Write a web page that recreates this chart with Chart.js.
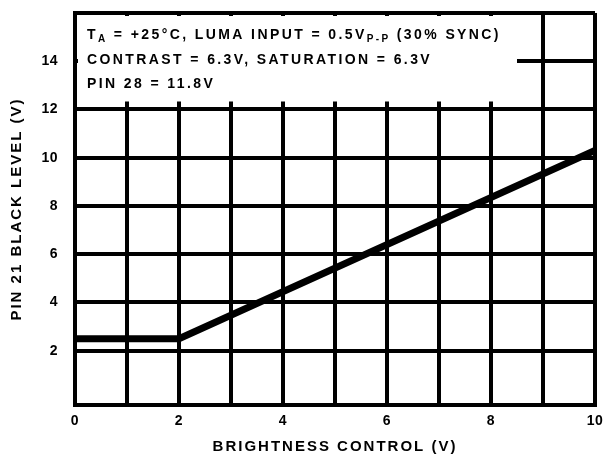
<!DOCTYPE html>
<html><head><meta charset="utf-8">
<script src="https://cdn.jsdelivr.net/npm/chart.js@4"></script>
<style>html,body{margin:0;padding:0;background:#fff}#wrap{width:603px;height:459px;position:relative}</style>
</head><body><div id="wrap"><canvas id="c"></canvas></div>
<script>
const brightness = [0, 2, 10];
const blackLevel = [2.5, 2.5, 10.3];
const xGrid = [0,1,2,3,4,5,6,7,8,9,10];
const xLabelValues = [0,2,4,6,8,10];
const yGrid = [0,2,4,6,8,10,12,14,16];
const yLabelValues = [2,4,6,8,10,12,14];
const xTitle = 'BRIGHTNESS CONTROL (V)';
const yTitle = 'PIN 21 BLACK LEVEL (V)';
const noteLines = [
  [['T',0],['A',1],[' = +25°C, LUMA INPUT = 0.5V',0],['P-P',1],[' (30% SYNC)',0]],
  [['CONTRAST = 6.3V, SATURATION = 6.3V',0]],
  [['PIN 28 = 11.8V',0]]
];
const FONT = '"Liberation Sans", Arial, Helvetica, sans-serif';

const spacingPlugin = {
  id:'spacing',
  beforeDraw(chart){ chart.ctx.letterSpacing = '0.5px'; }
};

const notePlugin = {
  id:'note',
  afterDatasetsDraw(chart){
    const {ctx, chartArea, scales:{x,y}} = chart;
    const x0 = chartArea.left + 3, x1 = x.getPixelForValue(8.5);
    const y0 = chartArea.top + 3, y1 = y.getPixelForValue(12) - 8;
    ctx.save();
    ctx.fillStyle = '#fff';
    ctx.fillRect(x0, y0, x1 - x0, y1 - y0);
    ctx.fillStyle = '#000';
    ctx.textBaseline = 'alphabetic';
    ctx.textAlign = 'left';
    ctx.letterSpacing = '2.4px';
    const base = [39, 64, 88];
    noteLines.forEach((segs, i) => {
      let cx = 87;
      segs.forEach(([t, sub]) => {
        ctx.font = (sub ? 'bold 10px ' : 'bold 14px ') + FONT;
        ctx.fillText(t, cx, base[i] + (sub ? 3 : 0));
        cx += ctx.measureText(t).width;
      });
    });
    ctx.restore();
  },
  afterDraw(chart){
    const {ctx} = chart;
    ctx.save();
    ctx.fillStyle = '#000';
    ctx.font = 'bold 15px ' + FONT;
    ctx.letterSpacing = '2px';
    ctx.textAlign = 'center';
    ctx.textBaseline = 'middle';
    ctx.fillText(xTitle, 335, 447);
    ctx.translate(17, 209);
    ctx.rotate(-Math.PI/2);
    ctx.fillText(yTitle, 0, 0);
    ctx.restore();
  }
};

new Chart(document.getElementById('c'), {
  type: 'line',
  data: {
    datasets: [{
      data: brightness.map((v, i) => ({x: v, y: blackLevel[i]})),
      borderColor: '#000',
      borderWidth: 7,
      pointRadius: 0,
      tension: 0,
      fill: false,
      borderCapStyle: 'butt',
      borderJoinStyle: 'miter'
    }]
  },
  options: {
    responsive: true,
    maintainAspectRatio: false,
    animation: false,
    devicePixelRatio: 1,
    layout: { padding: { top: 13, right: 8, left: 0, bottom: 0 } },
    plugins: { legend: { display: false }, tooltip: { enabled: false } },
    scales: {
      x: {
        type: 'linear', min: 0, max: 10,
        afterBuildTicks: s => { s.ticks = xGrid.map(v => ({value: v})); },
        afterFit: s => { s.height = 54; s.paddingLeft = 0; s.paddingRight = 0; },
        ticks: {
          autoSkip: false, maxRotation: 0, padding: 8,
          color: '#000',
          font: { family: FONT, size: 14, weight: 'bold' },
          callback: v => xLabelValues.includes(v) ? String(v) : ''
        },
        grid: { color: '#000', lineWidth: 4, drawTicks: false },
        border: { display: true, color: '#000', width: 4 }
      },
      y: {
        type: 'linear', min: -0.25, max: 16,
        afterBuildTicks: s => { s.ticks = yGrid.map(v => ({value: v})); },
        afterFit: s => { s.width = 75; s.paddingTop = 0; s.paddingBottom = 0; },
        ticks: {
          autoSkip: false, padding: 17,
          color: '#000',
          font: { family: FONT, size: 14, weight: 'bold' },
          callback: v => yLabelValues.includes(v) ? String(v) : ''
        },
        grid: { color: ctx => ctx.tick && ctx.tick.value === 0 ? 'rgba(0,0,0,0)' : '#000', lineWidth: 4, drawTicks: false },
        border: { display: true, color: '#000', width: 4 }
      }
    }
  },
  plugins: [spacingPlugin, notePlugin]
});
</script></body></html>
